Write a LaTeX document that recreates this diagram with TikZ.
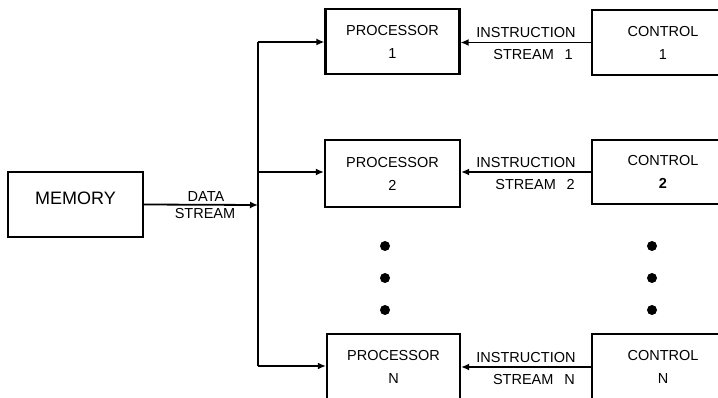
\documentclass[tikz,border=0pt]{standalone}
\usepackage{fontspec}
\setmainfont{Liberation Sans}
\usetikzlibrary{arrows.meta}
\begin{document}
\begin{tikzpicture}[x=1pt,y=-1pt,
  box/.style={draw,line width=2.2pt,inner sep=0pt,align=center,
    font=\fontsize{14.5}{23}\selectfont},
  flow/.style={line width=1.8pt,-{Latex[length=8pt,width=7pt]}},
  wire/.style={line width=1.8pt},
  lbl/.style={inner sep=0pt,font=\fontsize{14.5}{17}\selectfont},
  bigdot/.style={circle,fill,inner sep=0pt,minimum size=10pt}]
\fill[white] (0,0) rectangle (718,398);
\clip (0,0) rectangle (718,398);

% memory
\node[box,minimum width=135pt,minimum height=65pt,text depth=12pt,
  font=\fontsize{18}{20}\selectfont] (mem) at (75.5,204.5) {MEMORY};

% processors
\node[box,minimum width=134pt,minimum height=65pt] (p1) at (392.5,41.5) {PROCESSOR\\1};
\node[box,minimum width=135pt,minimum height=67pt] (p2) at (392.5,173.5) {PROCESSOR\\2};
\node[box,minimum width=133pt,minimum height=66pt] (pn) at (393.5,367) {PROCESSOR\\N};

% control units (open past the right border)
\node[box,minimum width=142pt,minimum height=65pt] (c1) at (663,42.5) {CONTROL\\1};
\node[box,minimum width=142pt,minimum height=64pt] (c2) at (663,172) {CONTROL\\\textbf{2}};
\node[box,minimum width=142pt,minimum height=66pt] (cn) at (663,367) {CONTROL\\N};

% data bus
\coordinate (b1) at (258,42);
\coordinate (b2) at (258,172);
\coordinate (bd) at (258,205);
\coordinate (bn) at (258,366);
\draw[wire] (b1) -- (bn);
\draw[flow] (mem.east) -- (bd);
\draw[flow] (b1) -- (b1 -| p1.west);
\draw[flow] (b2) -- (b2 -| p2.west);
\draw[flow] (bn) -- (bn -| pn.west);

\node[lbl,anchor=base] (dA) at (206,202) {DATA};
\node[lbl,anchor=base] (dB) at (205,218.5) {STREAM};

% instruction streams
\draw[flow] (c1.west) -- (c1.west -| p1.east);
\draw[flow] (c2.west) -- (c2.west -| p2.east);
\draw[flow] (cn.west) -- (cn.west -| pn.east);

\node[lbl,anchor=base] (i1) at (526,37.5) {INSTRUCTION};
\node[lbl,anchor=base east] (s1) at (573,60) {STREAM\hspace{0.75em}1};
\node[lbl,anchor=base] (i2) at (526,167.5) {INSTRUCTION};
\node[lbl,anchor=base east] (s2) at (575,189.5) {STREAM\hspace{0.75em}2};
\node[lbl,anchor=base] (i3) at (526,362.5) {INSTRUCTION};
\node[lbl,anchor=base east] (s3) at (575,384) {STREAM\hspace{0.75em}N};

% ellipsis dots
\foreach \y [count=\k] in {246,278,310} {
  \node[bigdot] (pd\k) at (385,\y) {};
  \node[bigdot] (cd\k) at (652,\y) {};
}
\end{tikzpicture}
\end{document}
